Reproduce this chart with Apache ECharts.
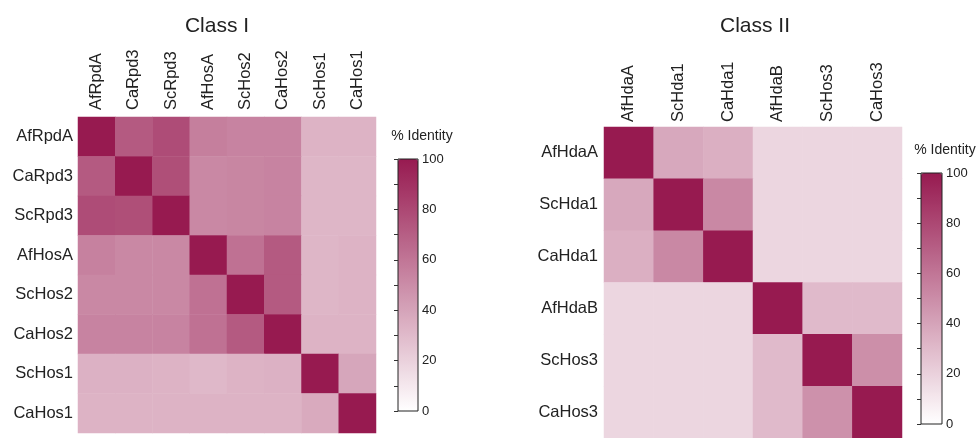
<!DOCTYPE html>
<html><head><meta charset="utf-8">
<script src="https://cdn.jsdelivr.net/npm/echarts@6/dist/echarts.min.js"></script>
<style>html,body{margin:0;padding:0;background:#fff}#c{width:976px;height:438px}</style>
</head><body><div id="c"></div>
<script>
const classITitle = 'Class I';
const classIITitle = 'Class II';
const legendTitle = '% Identity';
const classILabels = ['AfRpdA','CaRpd3','ScRpd3','AfHosA','ScHos2','CaHos2','ScHos1','CaHos1'];
const classIValues = [
  [100, 72, 78, 56, 54, 54, 33, 33],
  [72, 100, 77, 52, 53, 54, 32, 32],
  [78, 77, 100, 52, 53, 54, 32, 32],
  [55, 52, 52, 100, 62, 72, 32, 33],
  [52, 52, 52, 62, 100, 72, 32, 33],
  [54, 54, 54, 62, 72, 100, 33, 33],
  [34, 34, 33, 31, 33, 34, 100, 39],
  [33, 33, 33, 33, 33, 33, 37, 100]
];
const classIILabels = ['AfHdaA','ScHda1','CaHda1','AfHdaB','ScHos3','CaHos3'];
const classIIValues = [
  [100, 38, 35, 18, 18, 18],
  [38, 100, 52, 18, 18, 18],
  [35, 52, 100, 18, 18, 18],
  [18, 18, 18, 100, 30, 30],
  [18, 18, 18, 30, 100, 49],
  [18, 18, 18, 30, 48, 100]
];
const colorbarMin = 0;
const colorbarMax = 100;

const FONT = '"Liberation Sans", Arial, sans-serif';
const TXT = '#222';

function toCells(values) {
  const out = [];
  values.forEach((row, i) => row.forEach((v, j) => out.push([j, i, v])));
  return out;
}

const chart = echarts.init(document.getElementById('c'));

function heatX(gi, labels, margin) {
  return {
    type: 'category', gridIndex: gi, data: labels, position: 'top',
    axisLine: {show: false}, axisTick: {show: false}, splitLine: {show: false},
    axisLabel: {rotate: -90, margin: margin, fontSize: 16.5, color: TXT, fontFamily: FONT, interval: 0}
  };
}
function heatY(gi, labels, margin) {
  return {
    type: 'category', gridIndex: gi, data: labels, inverse: true,
    axisLine: {show: false}, axisTick: {show: false}, splitLine: {show: false},
    axisLabel: {margin: margin, fontSize: 16.5, color: TXT, fontFamily: FONT, interval: 0}
  };
}
function barX(gi) {
  return {type: 'value', gridIndex: gi, show: false, min: 0, max: 1};
}
function barY(gi) {
  return {
    type: 'value', gridIndex: gi, min: colorbarMin, max: colorbarMax, interval: 10,
    position: 'right', z: 10,
    axisLine: {show: false},
    axisTick: {show: true, inside: true, length: 4, lineStyle: {color: '#333', width: 1}},
    splitLine: {show: false},
    axisLabel: {margin: 4, fontSize: 13, color: TXT, fontFamily: FONT,
      formatter: v => (v % 20 === 0 ? String(v) : '')}
  };
}
const vmColors = ['#ffffff', '#971a50'];

chart.setOption({
  animation: false,
  backgroundColor: '#fff',
  title: [
    {text: classITitle, left: 217, top: 16, textAlign: 'center', padding: 0,
     textStyle: {fontSize: 21, fontWeight: 'normal', color: TXT, fontFamily: FONT}},
    {text: classIITitle, left: 755, top: 16, textAlign: 'center', padding: 0,
     textStyle: {fontSize: 21, fontWeight: 'normal', color: TXT, fontFamily: FONT}},
    {text: legendTitle, left: 422, top: 129, textAlign: 'center', padding: 0,
     textStyle: {fontSize: 14, fontWeight: 'normal', color: TXT, fontFamily: FONT}},
    {text: legendTitle, left: 945, top: 143, textAlign: 'center', padding: 0,
     textStyle: {fontSize: 14, fontWeight: 'normal', color: TXT, fontFamily: FONT}}
  ],
  grid: [
    {left: 78, top: 117, width: 298, height: 316},
    {left: 604, top: 127, width: 298, height: 316},
    {left: 398, top: 159, width: 20, height: 252, show: true, z: 10,
     backgroundColor: 'transparent', borderColor: '#222', borderWidth: 1},
    {left: 921, top: 173, width: 21, height: 251, show: true, z: 10,
     backgroundColor: 'transparent', borderColor: '#222', borderWidth: 1}
  ],
  xAxis: [heatX(0, classILabels, 7), heatX(1, classIILabels, 5), barX(2), barX(3)],
  yAxis: [heatY(0, classILabels, 5), heatY(1, classIILabels, 6), barY(2), barY(3)],
  visualMap: [
    {type: 'continuous', seriesIndex: 0, min: colorbarMin, max: colorbarMax, calculable: false,
     orient: 'vertical', left: 398, top: 159, itemWidth: 20, itemHeight: 252, padding: 0,
     hoverLink: false, inRange: {color: vmColors}},
    {type: 'continuous', seriesIndex: 1, min: colorbarMin, max: colorbarMax, calculable: false,
     orient: 'vertical', left: 921, top: 173, itemWidth: 21, itemHeight: 251, padding: 0,
     hoverLink: false, inRange: {color: vmColors}}
  ],
  series: [
    {type: 'heatmap', xAxisIndex: 0, yAxisIndex: 0, data: toCells(classIValues),
     emphasis: {disabled: true}, itemStyle: {borderWidth: 0}},
    {type: 'heatmap', xAxisIndex: 1, yAxisIndex: 1, data: toCells(classIIValues),
     emphasis: {disabled: true}, itemStyle: {borderWidth: 0}}
  ]
});
</script>
</body></html>
